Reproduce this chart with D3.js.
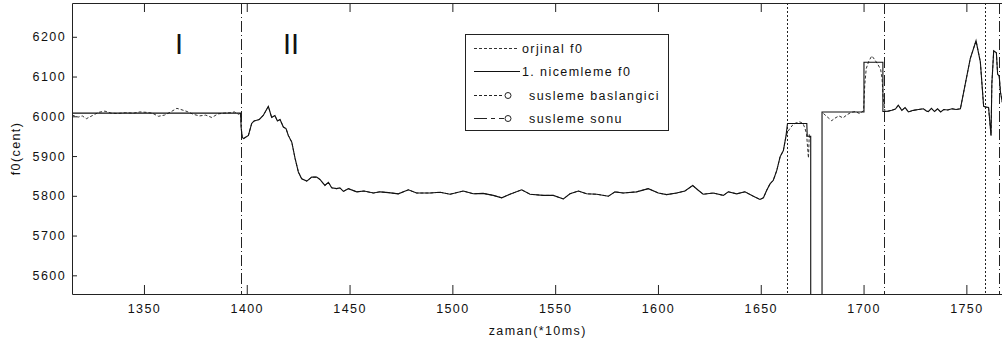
<!DOCTYPE html>
<html>
<head>
<meta charset="utf-8">
<script src="https://cdn.jsdelivr.net/npm/d3@7"></script>
<style>
  html, body { margin: 0; padding: 0; background: #fff; }
  svg { display: block; }
  text { font-family: "Liberation Sans", Arial, sans-serif; fill: #111; }
</style>
</head>
<body>
<svg id="chart" width="1002" height="347"></svg>
<script>
// ---- data (time in frames of 10 ms, f0 in cents) ----
const xTicks = [1350, 1400, 1450, 1500, 1550, 1600, 1650, 1700, 1750];
const yTicks = [5600, 5700, 5800, 5900, 6000, 6100, 6200];

// original f0, steady note (segment I)
const regionIT = [1315, 1318, 1320, 1322, 1325, 1328, 1331, 1334, 1337, 1341, 1345, 1348, 1351, 1354, 1357, 1360, 1363, 1366, 1368, 1371, 1374, 1377, 1380, 1383, 1386, 1389, 1392, 1394, 1396, 1397];
const regionIV = [6003, 5998, 6001, 5994, 6002, 6010, 6013, 6008, 6007, 6009, 6008, 6011, 6010, 6008, 6000, 6003, 6011, 6020, 6017, 6012, 6005, 6001, 6003, 5997, 6006, 6008, 6009, 6011, 6005, 6008];

// glide (segment II) — kept unchanged by the quantizer
const glideT = [1397.3, 1397.8, 1398.5, 1400.8, 1402.4, 1403.5, 1406.1, 1408, 1410.5, 1412.1, 1413.7, 1414.9, 1416.2, 1417.8, 1419.1, 1420.2, 1421.9, 1423.5, 1425.1, 1426.7, 1429.2, 1431.6, 1434, 1435.6, 1438, 1439.7, 1441.3, 1443.7, 1445.3, 1447, 1449.4, 1453.5, 1457, 1461.6, 1464.8, 1469, 1473.7, 1478.6, 1482.6, 1489.1, 1494, 1498.9, 1505.3, 1510.2, 1515, 1519.9, 1524, 1528, 1533.7, 1537.8, 1544.2, 1549.1, 1554, 1557.2, 1561.3, 1565.3, 1570.2, 1575.9, 1579.1, 1583.1, 1589.6, 1595.3, 1600.2, 1604.2, 1609.1, 1613.1, 1616.9, 1619.6, 1622, 1626.9, 1631.8, 1634.2, 1638.3, 1642.3, 1646.4, 1649.6, 1651.3, 1652.9, 1654.5, 1656.1, 1657.8, 1659.4, 1661, 1662.2];
const glideV = [5970, 5947, 5944, 5952, 5982, 5988, 5992, 6002, 6025, 5997, 6002, 5988, 5992, 5973, 5969, 5952, 5935, 5894, 5860, 5843, 5837, 5847, 5847, 5841, 5826, 5834, 5820, 5818, 5820, 5811, 5818, 5810, 5812, 5807, 5810, 5808, 5805, 5815, 5807, 5807, 5809, 5804, 5812, 5805, 5806, 5801, 5795, 5804, 5815, 5804, 5801, 5801, 5792, 5805, 5812, 5805, 5804, 5799, 5810, 5807, 5810, 5818, 5807, 5803, 5807, 5812, 5826, 5814, 5804, 5807, 5801, 5810, 5805, 5810, 5799, 5791, 5795, 5814, 5830, 5839, 5864, 5898, 5914, 5948];

// original f0 around the first ornament note
const noteAT = [1663, 1664, 1665.5, 1667, 1669, 1670.5, 1671.5, 1672.3, 1672.8, 1673.2, 1673.6, 1674];
const noteAV = [5960, 5968, 5978, 5983, 5986, 5982, 5970, 5955, 5920, 5895, 5955, 5945];

// original f0 after the unvoiced gap
const noteBT = [1680.5, 1682, 1684.5, 1686, 1688, 1690, 1692, 1694, 1696, 1698, 1700, 1700.6, 1701.3, 1702.5, 1704, 1705.5, 1707, 1708.3, 1709, 1709.5];
const noteBV = [6007, 6000, 5989, 5995, 6001, 5996, 6004, 6010, 6012, 6007, 6014, 6080, 6120, 6138, 6152, 6142, 6130, 6118, 6095, 6050];

// closing part — identical in both curves
const tailT = [1710.4, 1712, 1713.7, 1715.5, 1716.9, 1718.6, 1720.2, 1721.8, 1724.2, 1726.7, 1729.1, 1730.7, 1731.5, 1733, 1734.5, 1736, 1737.5, 1739, 1741, 1743, 1745, 1747.1, 1749.5, 1751.9, 1754.7, 1756.8, 1758.4, 1759.7, 1760.8, 1762, 1762.4, 1763.3, 1764.6, 1765.2, 1766, 1766.6, 1767.5];
const tailV = [6012, 6013, 6015, 6018, 6028, 6015, 6022, 6011, 6015, 6017, 6019, 6013, 6012, 6020, 6012, 6019, 6011, 6017, 6016, 6019, 6017, 6019, 6082, 6145, 6190, 6137, 6025, 6023, 6022, 5952, 6082, 6165, 6160, 6106, 6100, 6060, 6035];

// quantized levels (first quantization)
const quantHeadT = [1315, 1397];
const quantHeadV = [6008, 6008];
const quantMidT = [1663, 1672.4, 1672.6, 1674.3, 1674.3, 1679.8, 1679.8, 1700.2, 1700.2, 1709.4, 1709.4];
const quantMidV = [5982, 5982, 5950, 5950, 0, 0, 6011, 6011, 6136, 6136, 6012];

// ornament boundaries
const ornamentStart = [1663, 1759];
const ornamentEnd = [1397, 1710, 1766];

// region labels
const regionLabels = ["I", "II"];
const regionLabelX = [1367, 1421.5];

// legend entries
const legendLabels = ["orjinal f0", "1. nicemleme f0", "susleme baslangici", "susleme sonu"];

(function draw() {
  const svg = d3.select("#chart");
  const plotLeft = 72, plotTop = 3, plotBottom = 294;
  const pxPerFrame = 2.056;
  const xMin = 1315, xMax = 1768;
  const plotRight = plotLeft + (xMax - xMin) * pxPerFrame;

  const x = d3.scaleLinear().domain([xMin, xMax]).range([plotLeft, plotRight]);
  const y = d3.scaleLinear().domain([5553, 6285]).range([plotBottom, plotTop]);

  const zip = (t, v) => t.map((d, i) => [d, v[i]]);

  const original = [].concat(
    zip(regionIT, regionIV),
    zip(glideT, glideV),
    zip(noteAT, noteAV),
    [null],
    zip(noteBT, noteBV),
    zip(tailT, tailV)
  );
  const quantized = [].concat(
    zip(quantHeadT, quantHeadV),
    zip(glideT, glideV),
    zip(quantMidT, quantMidV),
    zip(tailT, tailV)
  );

  svg.append("defs").append("clipPath").attr("id", "plotClip")
    .append("rect").attr("x", plotLeft).attr("y", plotTop)
    .attr("width", plotRight - plotLeft).attr("height", plotBottom - plotTop);

  const line = d3.line()
    .defined(d => d !== null)
    .x(d => x(d[0])).y(d => y(d[1]));

  const plot = svg.append("g").attr("clip-path", "url(#plotClip)");

  // ornament start / end markers
  plot.selectAll("line.start").data(ornamentStart).join("line")
    .attr("class", "start")
    .attr("x1", d => Math.round(x(d)) + 0.5).attr("x2", d => Math.round(x(d)) + 0.5)
    .attr("y1", plotTop).attr("y2", plotBottom)
    .attr("stroke", "#222").attr("stroke-width", 1)
    .attr("stroke-dasharray", "2,2");

  plot.selectAll("line.end").data(ornamentEnd).join("line")
    .attr("class", "end")
    .attr("x1", d => Math.round(x(d)) + 0.5).attr("x2", d => Math.round(x(d)) + 0.5)
    .attr("y1", plotTop).attr("y2", plotBottom)
    .attr("stroke", "#222").attr("stroke-width", 1)
    .attr("stroke-dasharray", "11,3,1,3");

  // original f0 (dotted) below the quantized curve
  plot.append("path").datum(original)
    .attr("d", line)
    .attr("fill", "none").attr("stroke", "#333").attr("stroke-width", 1)
    .attr("stroke-dasharray", "3,2");

  plot.append("path").datum(quantized)
    .attr("d", line)
    .attr("fill", "none").attr("stroke", "#111").attr("stroke-width", 1.1);

  // ---- axes ----
  const fontSize = "12.5px", spacing = "1.4px";
  const fmt = d3.format("d");

  function styleAxis(g) {
    g.selectAll(".domain").attr("stroke", "#222");
    g.selectAll(".tick line").attr("stroke", "#222");
    g.selectAll(".tick text")
      .attr("font-family", '"Liberation Sans", Arial, sans-serif')
      .style("font-size", fontSize).style("letter-spacing", spacing)
      .attr("fill", "#111");
  }

  svg.append("g").attr("transform", `translate(0,${plotBottom})`)
    .call(d3.axisBottom(x).tickValues(xTicks).tickFormat(fmt)
      .tickSizeInner(-9).tickSizeOuter(0).tickPadding(10))
    .call(styleAxis);

  svg.append("g").attr("transform", `translate(0,${plotTop})`)
    .call(d3.axisTop(x).tickValues(xTicks).tickSizeInner(-9).tickSizeOuter(0).tickFormat(""))
    .call(styleAxis);

  svg.append("g").attr("transform", `translate(${plotLeft},0)`)
    .call(d3.axisLeft(y).tickValues(yTicks).tickFormat(fmt)
      .tickSizeInner(-5).tickSizeOuter(0).tickPadding(6))
    .call(styleAxis);

  // axis titles
  svg.append("text")
    .attr("x", (plotLeft + plotRight) / 2).attr("y", 335)
    .attr("text-anchor", "middle")
    .style("font-size", fontSize).style("letter-spacing", spacing)
    .text("zaman(*10ms)");

  svg.append("text")
    .attr("transform", `translate(20,${(plotTop + plotBottom) / 2}) rotate(-90)`)
    .attr("text-anchor", "middle")
    .style("font-size", fontSize).style("letter-spacing", spacing)
    .text("f0(cent)");

  // region labels
  svg.selectAll("text.region").data(regionLabels).join("text")
    .attr("class", "region")
    .attr("x", (d, i) => x(regionLabelX[i]))
    .attr("y", 54)
    .attr("text-anchor", "middle")
    .attr("fill", "#000")
    .style("font-size", "29px")
    .text(d => d);

  // ---- legend ----
  const lg = svg.append("g");
  const boxX = 465, boxY = 34, boxW = 203, boxH = 96;
  lg.append("rect")
    .attr("x", boxX + 0.5).attr("y", boxY + 0.5)
    .attr("width", boxW).attr("height", boxH)
    .attr("fill", "#fff").attr("stroke", "#222").attr("stroke-width", 1);

  const rowY = [48, 71, 95, 118];
  const textX = [522, 522, 529, 529];

  legendLabels.forEach((label, i) => {
    const yy = rowY[i] + 0.5;
    if (i === 0) {
      lg.append("line").attr("x1", 474).attr("x2", 519).attr("y1", yy).attr("y2", yy)
        .attr("stroke", "#333").attr("stroke-dasharray", "3,2");
    } else if (i === 1) {
      lg.append("line").attr("x1", 474).attr("x2", 520).attr("y1", yy).attr("y2", yy)
        .attr("stroke", "#111");
    } else {
      lg.append("line").attr("x1", 474).attr("x2", 504).attr("y1", yy).attr("y2", yy)
        .attr("stroke", "#222")
        .attr("stroke-dasharray", i === 2 ? "3,2" : "13,4,4,4");
      lg.append("circle").attr("cx", 508).attr("cy", yy).attr("r", 3)
        .attr("fill", "none").attr("stroke", "#222");
    }
    lg.append("text")
      .attr("x", textX[i]).attr("y", rowY[i] + 4.5)
      .style("font-size", fontSize).style("letter-spacing", spacing)
      .text(label);
  });
})();
</script>
</body>
</html>
